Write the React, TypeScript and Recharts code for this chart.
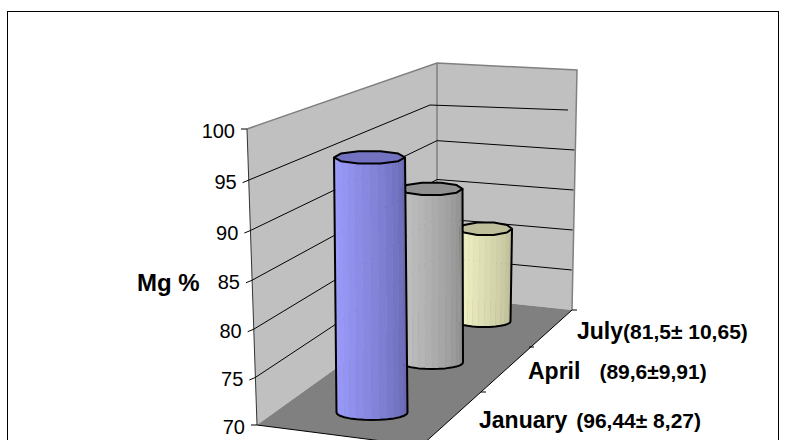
import React from 'react';
import { BarChart, Bar, XAxis, YAxis, CartesianGrid, Customized } from 'recharts';

const months = ['July', 'April', 'January'];
const notes = ['(81,5\u00b1 10,65)', '(89,6\u00b19,91)', '(96,44\u00b1 8,27)'];
const values = [81.5, 89.6, 96.44];
const yTicks = [70, 75, 80, 85, 90, 95, 100];
const axisTitle = 'Mg %';

const sideLight = ['#f6f6c8', '#c6c6c6', '#9c9cff'];
const sideDark = ['#b8b894', '#8a8a8a', '#6464ac'];
const capFill = ['#bfbf9c', '#909090', '#7272c0'];

const data = months.map((month, i) => ({ month, note: notes[i], value: values[i] }));

const W = 785, H = 440;
const PL = 257, PR = 572, PT = 129, PB = 425;
const PH = PB - PT;
const font = '"Liberation Sans", Arial, sans-serif';

// oblique projection helpers
const depthOf = (cx: number) => 1 - (cx - PL) / (PR - PL);
const leftPt = (t: number) => ({ x: PL - 10 * t, y: PB - PH * t + 13 * t * (1 - t) });
const backPt = (t: number) => ({ x: 437, y: 296 - 233 * t });
const rightPt = (t: number) => ({ x: 572 + 5 * t - 1, y: 310 - 240 * t });

const pts = (a: number[][]) => a.map((p) => p.join(',')).join(' ');

function Backdrop() {
  const gray = '#808080';
  return (
    <g>
      <rect x={7.5} y={11.5} width={771} height={440} fill="#fff" stroke="#000" strokeWidth={1} />
      <polygon points={pts([[247, 129], [437, 63], [437, 296], [257, 425]])} fill="#c0c0c0" />
      <polygon points={pts([[437, 63], [577, 70], [572, 310], [437, 296]])} fill="#c0c0c0" />
      <polygon points={pts([[257, 425], [437, 296], [572, 310], [421, 446]])} fill={gray} />
      <polyline points={pts([[247, 129], [437, 63], [577, 70], [572, 310]])} fill="none" stroke={gray} strokeWidth={1.5} />
      <line x1={437} y1={63} x2={437} y2={296} stroke={gray} strokeWidth={1.5} />
      <line x1={247} y1={129} x2={257} y2={425} stroke="#333" strokeWidth={1} />
      <line x1={257} y1={425} x2={421} y2={446} stroke="#000" strokeWidth={1} />
      <line x1={572} y1={310} x2={421} y2={446} stroke="#000" strokeWidth={1} />
      <line x1={572} y1={310} x2={577} y2={310} stroke="#000" />
      <line x1={529} y1={347} x2={534} y2={347} stroke="#000" />
      <line x1={481} y1={392} x2={486} y2={392} stroke="#000" />
      <text x={137} y={291} fontFamily={font} fontWeight="bold" fontSize={24} fill="#000">{axisTitle}</text>
    </g>
  );
}

function gridLine(p: any) {
  const t = (PB - p.y1) / PH;
  if (t < 0.01 || t > 0.99) return <g key={p.key} />;
  const odd = Math.abs(t - 5 / 6) < 0.01;
  const a = leftPt(t), b = backPt(t), c = rightPt(t);
  const bx = odd ? 430 : b.x;
  const by = odd ? 105 : b.y;
  const cx = odd ? 568 : c.x;
  return (
    <polyline key={p.key} points={pts([[a.x, a.y], [bx, by], [cx, c.y]])} fill="none" stroke="#000" strokeWidth={1} />
  );
}

function YTick(p: any) {
  const t = (PB - p.y) / PH;
  const a = leftPt(t);
  const flat = t < 0.01 || t > 0.99;
  return (
    <g>
      <line x1={a.x} y1={a.y} x2={a.x - 6} y2={a.y + (flat ? 0 : 2.5)} stroke="#000" strokeWidth={1} />
      <text x={a.x - 12} y={a.y + 9} textAnchor="end" fontFamily={font} fontSize={20} fill="#000">
        {p.payload.value}
      </text>
    </g>
  );
}

function XTick(p: any) {
  const d = depthOf(p.x);
  const row = data.find((r) => r.month === p.payload.value)!;
  const lx = 479 + (d - 1 / 6) * 147;
  const ly = 455.9 - 174 * d + 40.5 * d * d;
  const gap = row.month === 'April' ? 19 : row.month === 'January' ? 9 : 0;
  return (
    <text x={lx} y={ly} fontFamily={font} fontWeight="bold" fill="#000">
      <tspan fontSize={23}>{row.month}</tspan>
      <tspan fontSize={21} dx={gap}>{row.note}</tspan>
    </text>
  );
}

function Cylinder(p: any) {
  const i = p.index as number;
  const d = depthOf(p.x + p.width / 2);
  const unit = 8.86 - 2.37 * (d - 0.5);
  const val = (p.height / PH) * 30;
  const bx = 339 + 204 * d - 36 * d * d;
  const by = 441.4 - 177 * d + 40.5 * d * d - 0.5;
  const rx = (62 - 27 * (d - 0.5)) / 2;
  const ryBottom = 8 - 3 * d;
  const ryTop = 6.5;
  const tx = bx + (d - 0.58) * 6;
  const ty = by - val * unit;
  const n = 14;
  const strips = [];
  for (let k = 0; k < n; k++) {
    const a0 = Math.PI - (k * Math.PI) / n;
    const a1 = Math.PI - ((k + 1) * Math.PI) / n;
    const f = Math.pow(k / (n - 1), 1.3);
    const fill = mix(sideLight[i], sideDark[i], f);
    strips.push(
      <polygon
        key={k}
        points={pts([
          [tx + rx * Math.cos(a0), ty],
          [tx + rx * Math.cos(a1), ty],
          [bx + rx * Math.cos(a1), by + ryBottom * Math.sin(a1)],
          [bx + rx * Math.cos(a0), by + ryBottom * Math.sin(a0)],
        ])}
        fill={fill}
        stroke={fill}
        strokeWidth={0.4}
      />
    );
  }
  const bottom: number[][] = [];
  for (let k = 0; k <= n; k++) {
    const a = (k * Math.PI) / n;
    bottom.push([bx + rx * Math.cos(a), by + ryBottom * Math.sin(a)]);
  }
  const cap: number[][] = [];
  const m = 10;
  for (let k = 0; k < m; k++) {
    const a = (k * 2 * Math.PI) / m;
    cap.push([tx + rx * Math.cos(a), ty + ryTop * Math.sin(a)]);
  }
  return (
    <g>
      {strips}
      <polyline
        points={pts([[tx + rx, ty], ...bottom, [tx - rx, ty]])}
        fill="none"
        stroke="#000"
        strokeWidth={2}
        strokeLinejoin="round"
      />
      <polygon points={pts(cap)} fill={capFill[i]} stroke="#000" strokeWidth={2} strokeLinejoin="round" />
    </g>
  );
}

function mix(a: string, b: string, f: number) {
  const ch = (s: string, o: number) => parseInt(s.slice(o, o + 2), 16);
  const v = [1, 3, 5].map((o) => Math.round(ch(a, o) + (ch(b, o) - ch(a, o)) * f));
  return `rgb(${v.join(',')})`;
}

export default function App() {
  return (
    <div style={{ position: 'absolute', left: 0, top: 0, width: W, height: H, overflow: 'hidden', background: '#fff' }}>
      <BarChart
        width={W}
        height={H}
        data={data}
        margin={{ top: PT, bottom: H - PB - 1, left: PL - 1, right: W - PR }}
        barCategoryGap="10%"
      >
        <Customized component={Backdrop} />
        {React.createElement(CartesianGrid as any, { vertical: false, horizontal: gridLine, zIndex: 100 })}
        <XAxis dataKey="month" height={1} axisLine={false} tickLine={false} tick={XTick as any} interval={0} />
        <YAxis
          width={1}
          domain={[70, 100]}
          ticks={yTicks}
          interval={0}
          axisLine={false}
          tickLine={false}
          tick={YTick as any}
        />
        <Bar dataKey="value" isAnimationActive={false} shape={Cylinder as any} />
      </BarChart>
    </div>
  );
}
